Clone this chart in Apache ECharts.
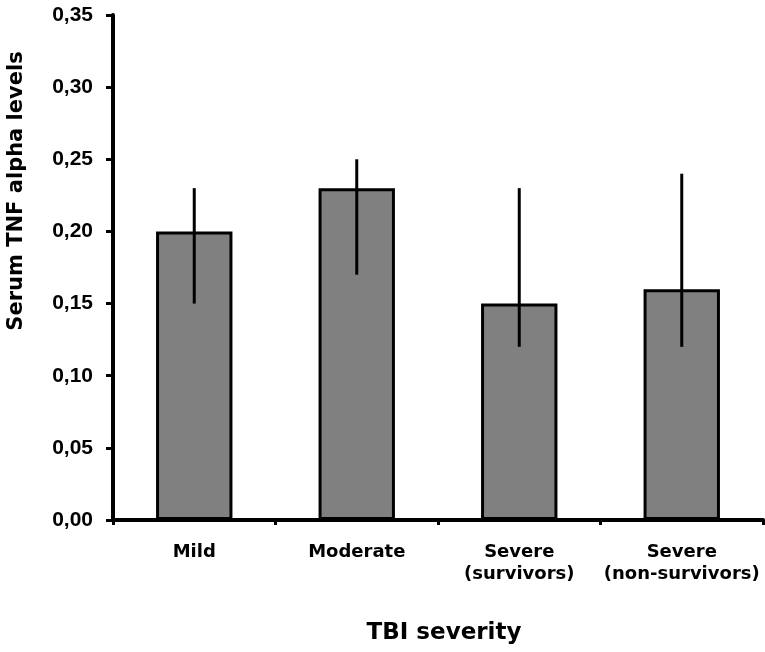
<!DOCTYPE html>
<html>
<head>
<meta charset="utf-8">
<script src="https://cdn.jsdelivr.net/npm/echarts@6/dist/echarts.min.js"></script>
<style>
  html, body { margin: 0; padding: 0; background: #ffffff; }
  #chart { width: 765px; height: 652px; }
</style>
</head>
<body>
<div id="chart"></div>
<script>
// TBI severity groups
var categories = ['Mild', 'Moderate', 'Severe\n(survivors)', 'Severe\n(non-survivors)'];
// Mean serum TNF alpha levels
var meanValues = [0.20, 0.23, 0.15, 0.16];
// Error bar bounds (lower / upper)
var errLow = [0.15, 0.17, 0.12, 0.12];
var errHigh = [0.23, 0.25, 0.23, 0.24];
// Y-axis scale
var yMin = 0, yMax = 0.35, yStep = 0.05;

var errData = categories.map(function (c, i) { return [i, errLow[i], errHigh[i]]; });

var chart = echarts.init(document.getElementById('chart'), null, { renderer: 'canvas' });

chart.setOption({
  backgroundColor: '#ffffff',
  animation: false,
  grid: { left: 113, right: 2, top: 15, bottom: 132, containLabel: false },
  xAxis: {
    type: 'category',
    data: categories,
    boundaryGap: true,
    name: 'TBI severity',
    nameLocation: 'middle',
    nameGap: 102,
    nameTextStyle: {
      fontFamily: 'DejaVu Sans', fontWeight: 'bold', fontSize: 23, color: '#000',
      padding: [0, 0, 0, 12]
    },
    axisLine: { lineStyle: { color: '#000', width: 4 } },
    axisTick: { show: true, alignWithLabel: false, length: 5, lineStyle: { color: '#000', width: 3 } },
    axisLabel: {
      interval: 0,
      margin: 21,
      fontFamily: 'DejaVu Sans', fontWeight: 'bold', fontSize: 18, lineHeight: 22,
      color: '#000'
    },
    splitLine: { show: false }
  },
  yAxis: {
    type: 'value',
    min: yMin, max: yMax, interval: yStep,
    axisLine: { show: true, lineStyle: { color: '#000', width: 4 } },
    axisTick: { show: true, length: 7, lineStyle: { color: '#000', width: 3 } },
    axisLabel: {
      margin: 20,
      fontFamily: 'Liberation Sans', fontWeight: 'bold', fontSize: 21, color: '#000',
      formatter: function (v) { return v.toFixed(2).replace('.', ','); }
    },
    splitLine: { show: false }
  },
  graphic: [{
    type: 'text',
    x: 17, y: 191,
    rotation: Math.PI / 2,
    style: {
      text: 'Serum TNF alpha levels',
      fontFamily: 'DejaVu Sans', fontWeight: 'bold', fontSize: 21,
      fill: '#000',
      textAlign: 'center', textVerticalAlign: 'middle'
    }
  }],
  series: [{
    type: 'bar',
    data: meanValues,
    barWidth: '47%',
    itemStyle: { color: '#808080', borderColor: '#000', borderWidth: 3 },
    z: 2
  }, {
    type: 'custom',
    data: errData,
    z: 5,
    renderItem: function (params, api) {
      var x = api.value(0);
      var lo = api.coord([x, api.value(1)]);
      var hi = api.coord([x, api.value(2)]);
      return {
        type: 'line',
        shape: { x1: lo[0], y1: lo[1], x2: hi[0], y2: hi[1] },
        style: { stroke: '#000', lineWidth: 3 }
      };
    }
  }]
});
</script>
</body>
</html>
